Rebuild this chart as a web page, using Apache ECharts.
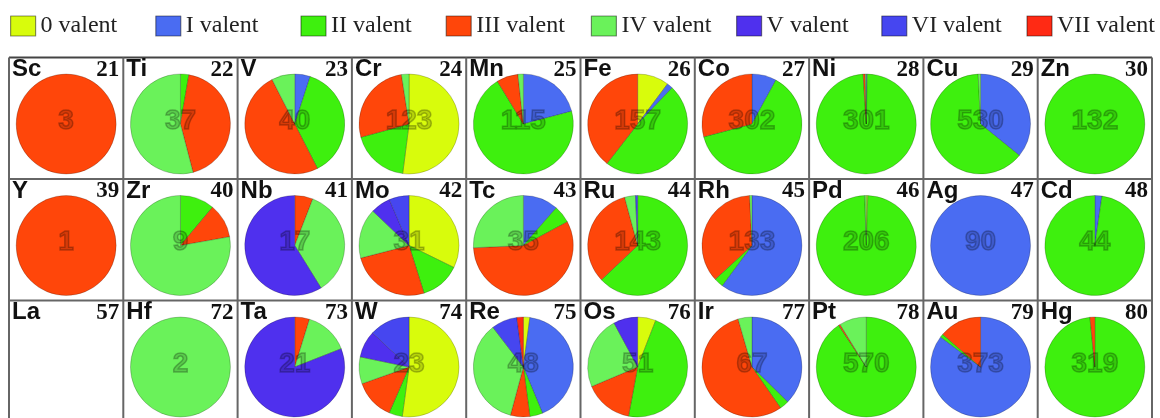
<!DOCTYPE html>
<html>
<head>
<meta charset="utf-8">
<script src="https://cdn.jsdelivr.net/npm/echarts@6/dist/echarts.min.js"></script>
<style>
html,body{margin:0;padding:0;background:#fff;}
#chart{width:1160px;height:418px;}
</style>
</head>
<body>
<div id="chart"></div>
<script>
// ---- data ----
const symbols = ['Sc','Ti','V','Cr','Mn','Fe','Co','Ni','Cu','Zn',
                 'Y','Zr','Nb','Mo','Tc','Ru','Rh','Pd','Ag','Cd',
                 'La','Hf','Ta','W','Re','Os','Ir','Pt','Au','Hg'];
const atomicNumbers = [21,22,23,24,25,26,27,28,29,30,
                       39,40,41,42,43,44,45,46,47,48,
                       57,72,73,74,75,76,77,78,79,80];
const valences = ['0 valent','I valent','II valent','III valent','IV valent','V valent','VI valent','VII valent'];
const valenceColors = ['#d8fc0c','#4a6cf2','#3ef00e','#ff460a','#6af25a','#4f30ee','#4646f0','#ff2a14'];
// counts per valence, one value per element (same order as symbols)
const v0   = [0,0,0,64,0,16,0,0,0,0,    0,0,0,10,0,0,0,1,0,0,     0,0,0,12,1,3,0,0,0,0];
const vI   = [0,0,2,0,24,3,24,1,190,0,  0,0,0,0,4,0,80,0,90,1,    0,0,0,0,20,0,25,0,318,0];
const vII  = [0,1,15,23,81,76,190,297,336,132, 0,1,0,4,2,90,4,204,0,43, 0,0,0,1,2,24,2,517,4,314];
const vIII = [3,16,20,33,8,62,88,2,0,0, 1,1,1,8,20,47,48,0,0,0,  0,0,1,3,3,8,37,3,51,5];
const vIV  = [0,20,3,3,2,0,0,1,4,0,    0,7,6,5,9,5,1,1,0,0,     0,2,3,2,17,12,3,50,0,0];
const vV   = [0,0,0,0,0,0,0,0,0,0,    0,0,10,2,0,0,0,0,0,0,     0,0,17,2,0,4,0,0,0,0];
const vVI  = [0,0,0,0,0,0,0,0,0,0,    0,0,0,2,0,1,0,0,0,0,      0,0,0,3,4,0,0,0,0,0];
const vVII = [0,0,0,0,0,0,0,0,0,0,    0,0,0,0,0,0,0,0,0,0,      0,0,0,0,1,0,0,0,0,0];
const valenceData = [v0, vI, vII, vIII, vIV, vV, vVI, vVII];

// ---- layout ----
const COLS = 10, X0 = 9, CELL_W = 114.3, Y0 = 57.5, ROW_H = 121.5;
const PIE_DY = 66.5, PIE_R = 50;
const LEGEND_X0 = 10, LEGEND_STEP = 145.2;

const series = [];
const titles = [];
const graphics = [];

symbols.forEach((sym, i) => {
  const r = Math.floor(i / COLS), c = i % COLS;
  const x = X0 + c * CELL_W, y = Y0 + r * ROW_H;
  titles.push({
    text: sym, left: x + 3, top: y + 0, padding: 0,
    textStyle: {fontFamily: 'Liberation Sans', fontWeight: 'bold', fontSize: 24, color: '#111'}
  });
  titles.push({
    text: String(atomicNumbers[i]), left: x + CELL_W - 4, top: y + 1, padding: 0, textAlign: 'right',
    textStyle: {fontFamily: 'Liberation Serif', fontWeight: 'bold', fontSize: 23, color: '#111'}
  });
  const items = [];
  let total = 0;
  valences.forEach((v, k) => {
    const val = valenceData[k][i];
    if (val > 0) {
      total += val;
      items.push({name: v, value: val, itemStyle: {color: valenceColors[k]}});
    }
  });
  if (items.length) {
    items[0].label = {
      show: true, position: 'center', formatter: String(total), offset: [0, -3],
      fontFamily: 'Liberation Sans', fontWeight: 'bold', fontSize: 28,
      color: 'rgba(0,0,0,0.16)', textBorderColor: 'rgba(0,0,0,0.26)', textBorderWidth: 1.5
    };
    series.push({
      type: 'pie', name: sym, radius: [0, PIE_R],
      center: [x + CELL_W / 2, y + PIE_DY],
      startAngle: 90, clockwise: true, animation: false,
      label: {show: false}, labelLine: {show: false},
      emphasis: {disabled: true},
      itemStyle: {borderColor: 'rgba(0,0,0,0.35)', borderWidth: 0.6},
      data: items
    });
  }
});

// cell grid lines
for (let rr = 0; rr <= 3; rr++) {
  const yy = Y0 + rr * ROW_H;
  graphics.push({type: 'line', shape: {x1: X0, y1: yy, x2: X0 + COLS * CELL_W, y2: yy},
    style: {stroke: rr === 0 ? '#444' : '#666', lineWidth: 2}, silent: true, z: 0});
}
for (let cc = 0; cc <= COLS; cc++) {
  const xx = X0 + cc * CELL_W;
  graphics.push({type: 'line', shape: {x1: xx, y1: Y0, x2: xx, y2: 430},
    style: {stroke: '#666', lineWidth: 2}, silent: true, z: 0});
}

// one legend block per valence, laid out in equal columns
const legends = valences.map((v, k) => ({
  data: [{name: v, itemStyle: {color: valenceColors[k]}}],
  left: LEGEND_X0 + k * LEGEND_STEP, top: 14, padding: 0,
  itemWidth: 25, itemHeight: 20,
  icon: 'rect',
  itemStyle: {borderColor: 'rgba(0,0,0,0.45)', borderWidth: 1.2},
  textStyle: {fontFamily: 'Liberation Serif', fontSize: 24, color: '#222'},
  selectedMode: false
}));

const chart = echarts.init(document.getElementById('chart'), null, {renderer: 'canvas'});
chart.setOption({
  backgroundColor: '#fff',
  animation: false,
  title: titles,
  legend: legends,
  graphic: graphics,
  series: series
});
</script>
</body>
</html>
